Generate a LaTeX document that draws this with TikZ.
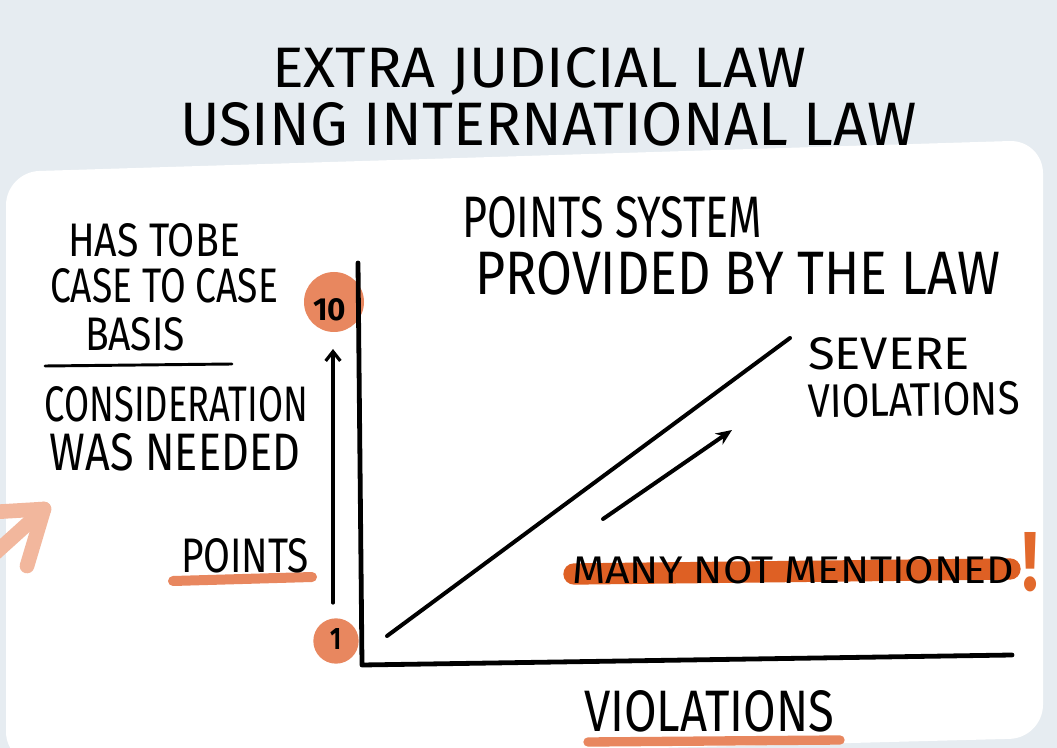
\documentclass[tikz,border=0pt]{standalone}
\usepackage{graphicx}
\usepackage{fontspec}
\setmainfont{Fira Sans}
\usetikzlibrary{arrows.meta}
\newdimen\pxu \pxu=0.75pt
\newcommand\hw[3]{\resizebox{#1\pxu}{#2\pxu}{#3}}
\definecolor{bg}{HTML}{E6ECF1}
\definecolor{circ}{HTML}{E8875F}
\definecolor{hilite}{HTML}{DE6024}
\definecolor{bang}{HTML}{E2692C}
\definecolor{pale}{HTML}{F2B79D}
\begin{document}
\begin{tikzpicture}[x=0.75pt,y=-0.75pt,
  txt/.style={anchor=base west,inner sep=0pt,outer sep=0pt},
  ink/.style={black,line cap=round,line join=round},
  dot/.style={circle,fill=circ,inner sep=0pt}]
\useasboundingbox (0,0) rectangle (1057,748);
\fill[bg] (0,0) rectangle (1057,748);
% card
\fill[white,rounded corners=25] (6,172) -- (1043,140) -- (1043,738) -- (6,765) -- cycle;
% title
\node[txt] (t1) at (272,88) {\hw{534}{40}{EXTRA JUDICIAL LAW}};
\node[txt] (t2) at (180,146) {\hw{737}{43}{USING INTERNATIONAL LAW}};
% left notes
\node[txt] (n1) at (68,257) {\hw{172}{33}{HAS TOBE}};
\node[txt] (n2) at (50,303) {\hw{228}{34}{CASE TO CASE}};
\node[txt] (n3) at (85,351) {\hw{100}{33}{BASIS}};
\coordinate (s1) at (45,366);
\coordinate (s2) at (232,364);
\draw[ink,line width=2.2pt] (s1) -- (s2);
\node[txt] (n4) at (45,422) {\hw{263}{35}{CONSIDERATION}};
\node[txt] (n5) at (50,470) {\hw{250}{37}{WAS NEEDED}};
% pale arrow at the edge
\coordinate (pt) at (44,509);
\coordinate (pl) at (-6,512);
\coordinate (pd) at (27,566);
\coordinate (ps) at (-8,556);
\draw[pale,line width=11pt,line cap=round,line join=round] (pl) -- (pt) -- (pd);
\draw[pale,line width=11pt,line cap=round] (ps) -- (pt);
% points label
\coordinate (u1) at (173,581);
\coordinate (u2) at (312,577);
\draw[circ,line width=7.5pt,line cap=round] (u1) -- (u2);
\node[txt] (pl1) at (181,572) {\hw{128}{34}{POINTS}};
% circles on the axis
\node[dot,minimum size=45pt] (c10) at (334,302) {};
\node[txt] (l10) at (313,321) {\hw{33}{22}{\textbf{10}}};
\node[dot,minimum size=34pt] (c1) at (336,641) {};
\node[txt] (l1) at (330,649) {\hw{11}{21}{\textbf{1}}};
% axes
\coordinate (yt) at (358,263);
\coordinate (o) at (362,665);
\coordinate (xe) at (1012,655);
\draw[ink,line width=3.6pt] (yt) -- (o) -- (xe);
% points arrow
\coordinate (pa) at (333,603);
\coordinate (pb) at (333,349);
\draw[ink,line width=2.4pt,-{Straight Barb[length=7pt,width=11pt,line width=2.4pt]}] (pa) -- (pb);
% right heading
\node[txt] (h1) at (462,238) {\hw{300}{41}{POINTS SYSTEM}};
\node[txt] (h2) at (475,295) {\hw{525}{43}{PROVIDED BY THE LAW}};
% trend lines
\coordinate (d1) at (387,636);
\coordinate (d2) at (790,338);
\draw[ink,line width=3pt] (d1) -- (d2);
\coordinate (a1) at (603,519);
\coordinate (a2) at (732,430);
\draw[ink,line width=3pt,-{Stealth[length=12pt,width=10pt]}] (a1) -- (a2);
\node[txt] (sv1) at (808,370) {\hw{162}{32}{SEVERE}};
\node[txt,rotate=1] (sv2) at (808,418) {\hw{212}{33}{VIOLATIONS}};
% many not mentioned
\coordinate (b1) at (574,574);
\coordinate (b2) at (1010,569);
\draw[hilite,line width=16pt,line cap=round] (b1) -- (b2);
\node[txt] (mn) at (572,583) {\hw{442}{27}{MANY NOT MENTIONED}};
\node[txt] (ex) at (1022,590) {\hw{16}{58}{\textcolor{bang}{\textbf{!}}}};
% x label
\coordinate (v1) at (588,742);
\coordinate (v2) at (840,740);
\draw[circ,line width=7pt,line cap=round] (v1) -- (v2);
\node[txt] (vl) at (584,731) {\hw{250}{41}{VIOLATIONS}};
\end{tikzpicture}
\end{document}
